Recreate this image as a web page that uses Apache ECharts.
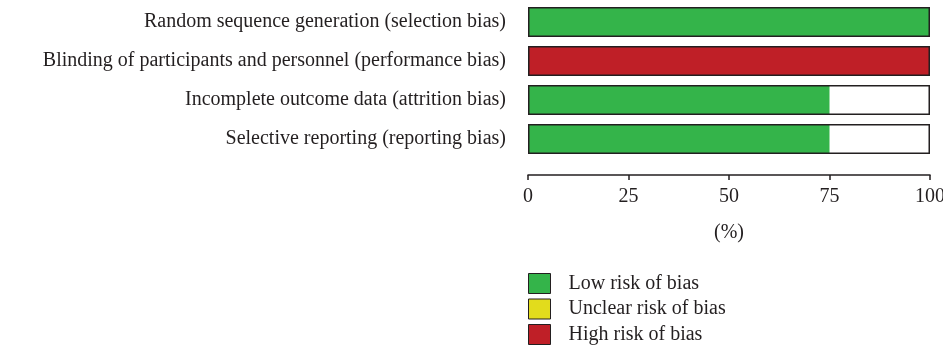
<!DOCTYPE html>
<html>
<head>
<meta charset="utf-8">
<script src="https://cdn.jsdelivr.net/npm/echarts@6/dist/echarts.min.js"></script>
<style>
  html, body { margin: 0; padding: 0; background: #fff; }
  #main { width: 943px; height: 350px; }
</style>
</head>
<body>
<div id="main"></div>
<script>
// risk of bias categories (top to bottom)
let categories = [
    "Random sequence generation (selection bias)",
    "Blinding of participants and personnel (performance bias)",
    "Incomplete outcome data (attrition bias)",
    "Selective reporting (reporting bias)"
];
let lowRisk = [100, 0, 75, 75];
let unclearRisk = [0, 0, 0, 0];
let highRisk = [0, 100, 0, 0];
let fullScale = [100, 100, 100, 100]; // outline box of each bar

let serif = "Liberation Serif";
var myChart = echarts.init(document.getElementById('main'));

var option = {
    animation: false,
    textStyle: { fontFamily: serif },
    grid: { left: 528, right: 13, top: 2.5, height: 156, outerBoundsMode: 'none', containLabel: false },
    legend: {
        orient: 'vertical',
        left: 528,
        top: 273,
        padding: 0,
        itemWidth: 22,
        itemHeight: 20,
        itemGap: 4.5,
        icon: 'rect',
        data: ['Low risk of bias', 'Unclear risk of bias', 'High risk of bias'],
        itemStyle: { borderColor: '#231f20', borderWidth: 1 },
        textStyle: { fontFamily: serif, fontSize: 20, color: '#231f20', padding: [0, 0, 0, 13] }
    },
    xAxis: {
        type: 'value',
        min: 0,
        max: 100,
        interval: 25,
        offset: 16.5,
        name: '(%)',
        nameLocation: 'middle',
        nameGap: 48,
        nameTextStyle: { fontFamily: serif, fontSize: 20, color: '#231f20' },
        axisLine: { show: true, lineStyle: { color: '#231f20', width: 1.5 } },
        axisTick: { show: true, inside: false, length: 5, lineStyle: { color: '#231f20', width: 1.5 } },
        axisLabel: { fontFamily: serif, fontSize: 20, color: '#231f20', margin: 12 },
        splitLine: { show: false }
    },
    yAxis: {
        type: 'category',
        inverse: true,
        data: categories,
        axisLine: { show: false },
        axisTick: { show: false },
        axisLabel: { fontFamily: serif, fontSize: 20, color: '#231f20', margin: 22 }
    },
    series: [
        {
            name: 'Low risk of bias', type: 'bar', stack: 'rob', data: lowRisk,
            barWidth: 30, itemStyle: { color: '#34b44a' }, silent: true
        },
        {
            name: 'Unclear risk of bias', type: 'bar', stack: 'rob', data: unclearRisk,
            barWidth: 30, itemStyle: { color: '#e2dc1c' }, silent: true
        },
        {
            name: 'High risk of bias', type: 'bar', stack: 'rob', data: highRisk,
            barWidth: 30, itemStyle: { color: '#bf1f27' }, silent: true
        },
        {
            name: 'outline', type: 'bar', data: fullScale, barWidth: 30, barGap: '-100%', z: 5,
            itemStyle: { color: 'rgba(0,0,0,0)', borderColor: '#231f20', borderWidth: 1.5 }, silent: true
        }
    ]
};
myChart.setOption(option);
</script>
</body>
</html>
